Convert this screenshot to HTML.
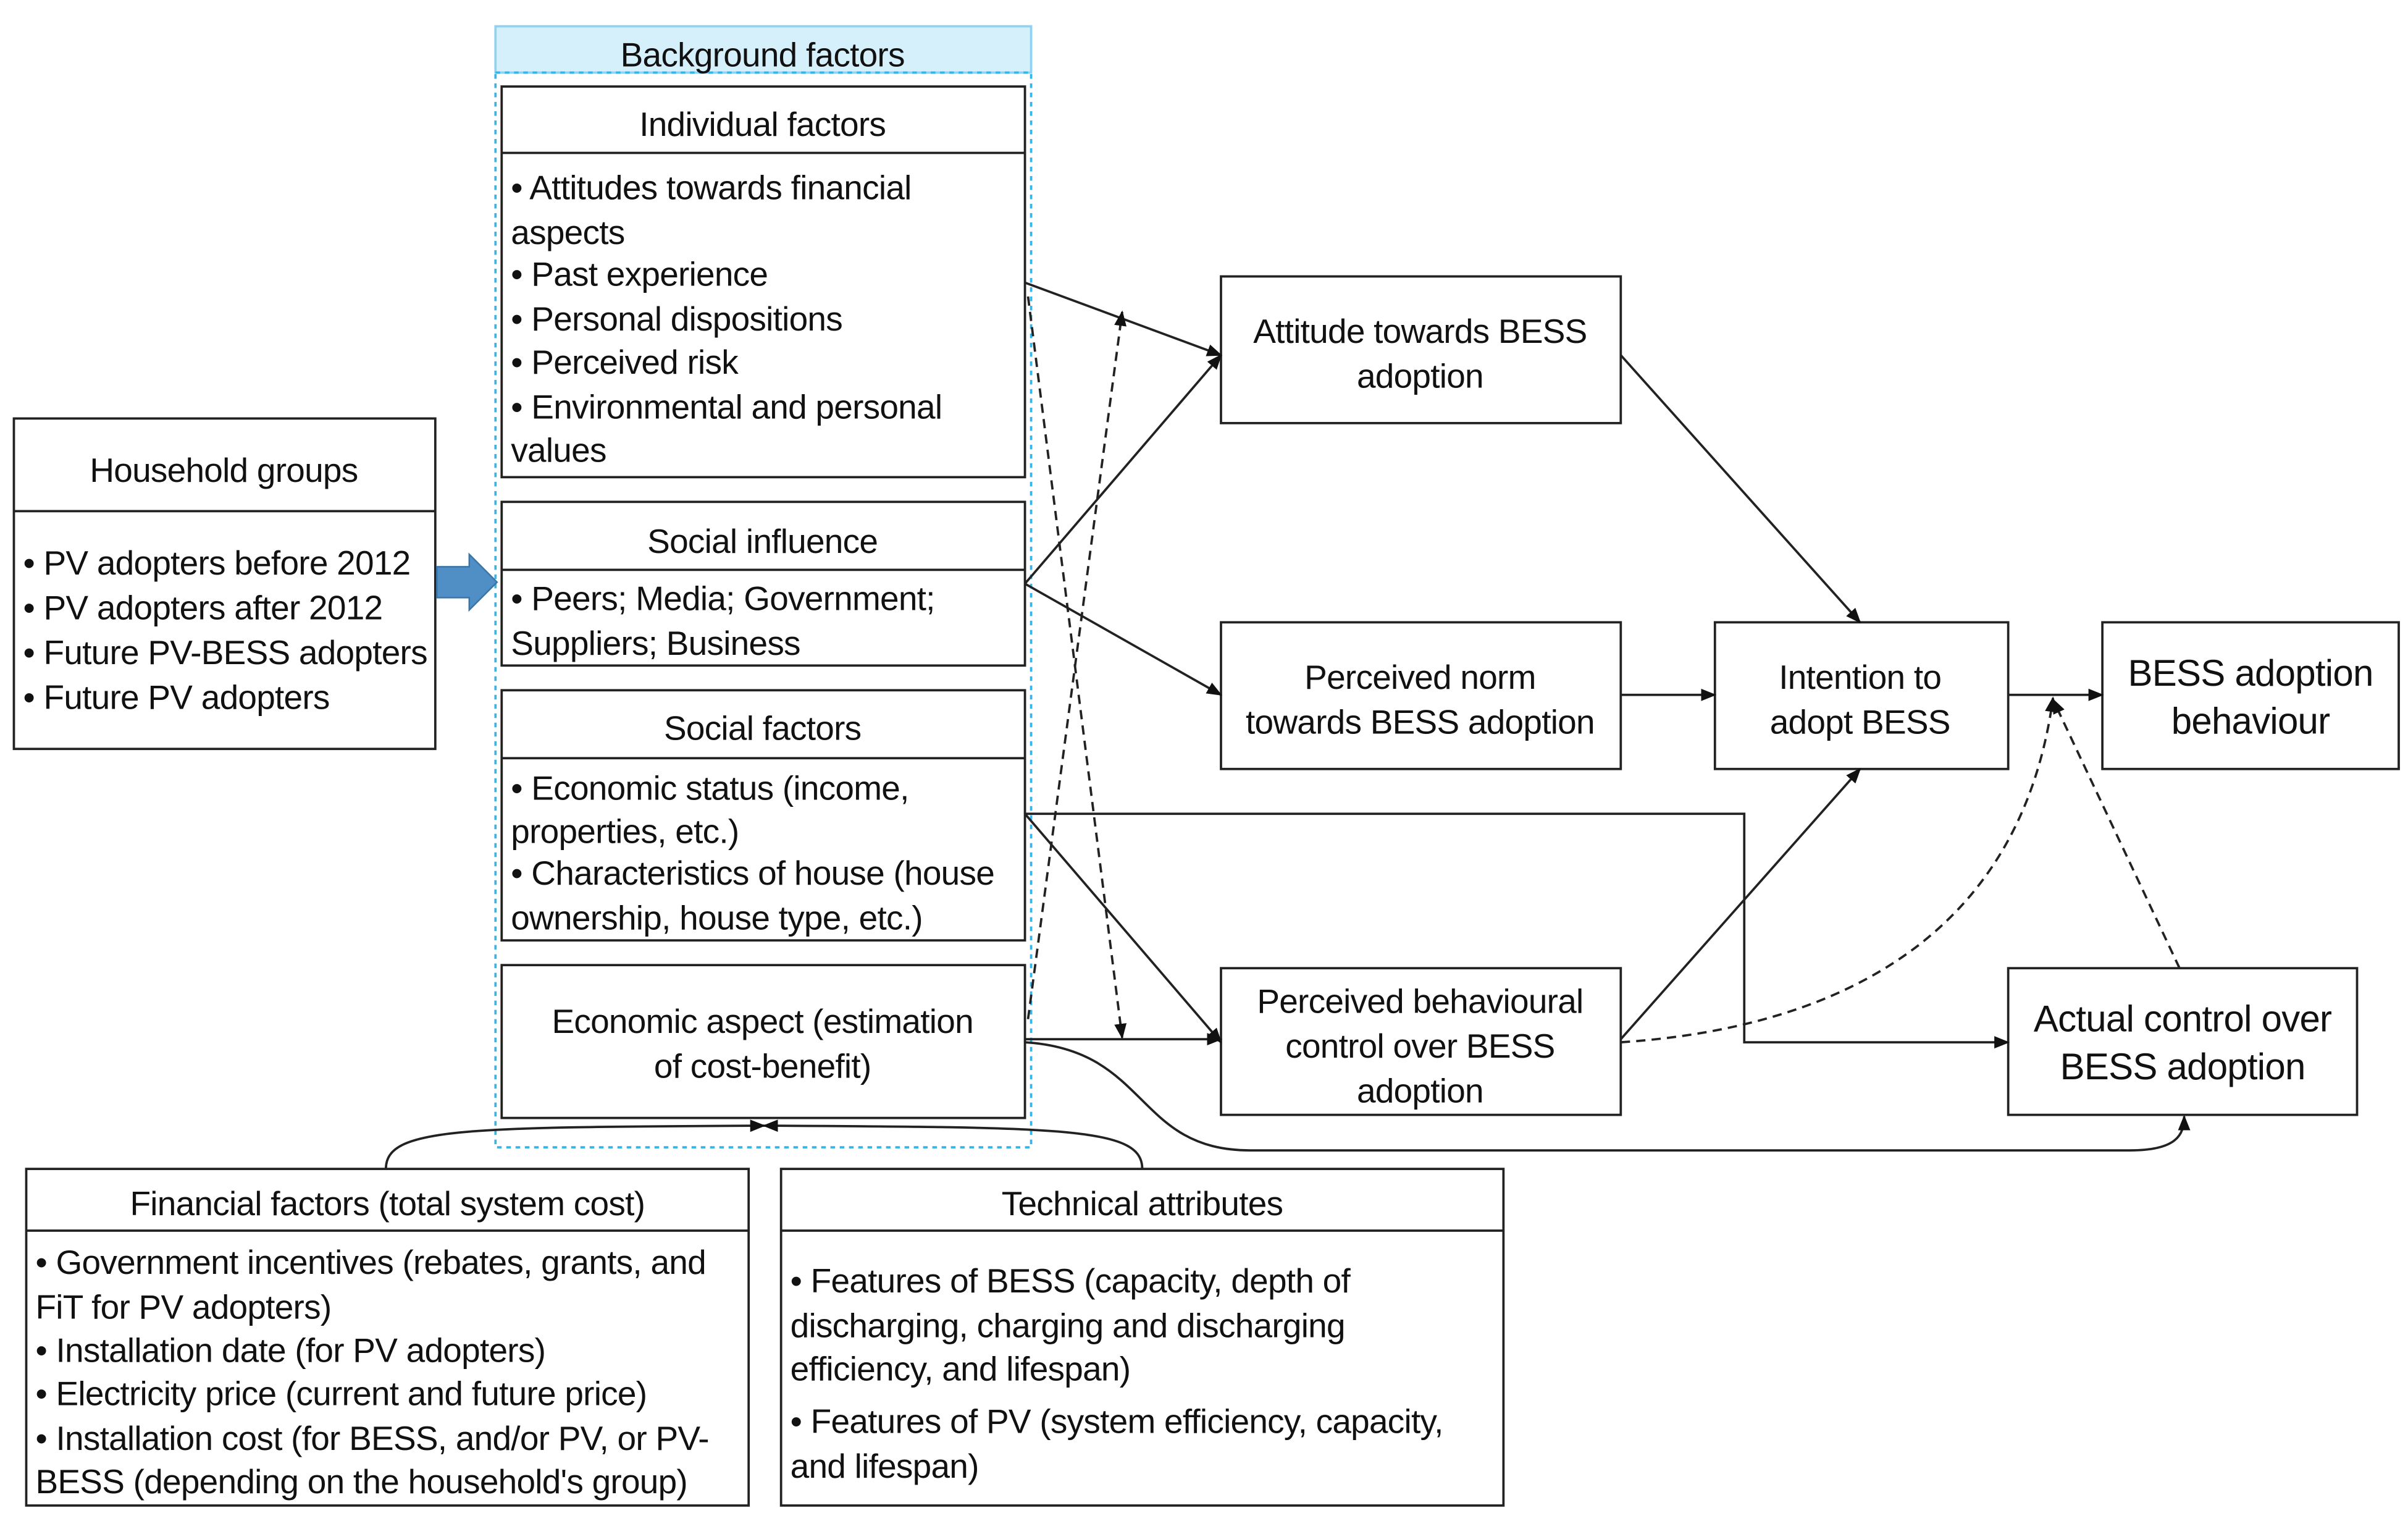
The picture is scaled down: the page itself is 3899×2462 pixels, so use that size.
<!DOCTYPE html>
<html><head><meta charset="utf-8"><style>
html,body{margin:0;padding:0;background:#fff;}
svg{display:block;}
text{font-family:"Liberation Sans","DejaVu Sans",sans-serif;font-size:22px;fill:#111;letter-spacing:-0.3px;}
.c{text-anchor:middle;}
</style></head><body>
<svg width="3899" height="2462" viewBox="0 0 1560 985" xmlns="http://www.w3.org/2000/svg">
<defs>
<marker id="a" markerWidth="10" markerHeight="10" refX="9" refY="5" orient="auto" markerUnits="userSpaceOnUse"><path d="M0,1 L10,5 L0,9 Z" fill="#111"/></marker>
</defs>
<g fill="none" stroke="#222" stroke-width="1.5">
<rect x="321" y="17" width="347" height="30" fill="#d6f0fb" stroke="#8fd3f0"/>
<rect x="321" y="47" width="347" height="696" stroke="#39b4e6" stroke-dasharray="3,3"/>
<rect x="325" y="56" width="339" height="253"/><line x1="325" y1="99" x2="664" y2="99"/>
<rect x="325" y="325" width="339" height="106"/><line x1="325" y1="369" x2="664" y2="369"/>
<rect x="325" y="447" width="339" height="162"/><line x1="325" y1="491" x2="664" y2="491"/>
<rect x="325" y="625" width="339" height="99"/>
<rect x="9" y="271" width="273" height="214"/><line x1="9" y1="331" x2="282" y2="331"/>
<rect x="791" y="179" width="259" height="95"/>
<rect x="791" y="403" width="259" height="95"/>
<rect x="791" y="627" width="259" height="95"/>
<rect x="1111" y="403" width="190" height="95"/>
<rect x="1362" y="403" width="192" height="95"/>
<rect x="1301" y="627" width="226" height="95"/>
<rect x="17" y="757" width="468" height="218"/><line x1="17" y1="797" x2="485" y2="797"/>
<rect x="506" y="757" width="468" height="218"/><line x1="506" y1="797" x2="974" y2="797"/>
<path d="M664,183 L791,230" marker-end="url(#a)"/>
<path d="M664,378 L791,230" marker-end="url(#a)"/>
<path d="M664,378 L791,450" marker-end="url(#a)"/>
<path d="M664,527 L1130,527 L1130,675 L1301,675" marker-end="url(#a)"/>
<path d="M664,527 L791,675" marker-end="url(#a)"/>
<path d="M664,673 L791,673" marker-end="url(#a)"/>
<path d="M664,675 C745,680 735,745 810,745 L1380,745 C1410,745 1415,735 1415,723" marker-end="url(#a)"/>
<path d="M1050,230 L1205,403" marker-end="url(#a)"/>
<path d="M1050,450 L1111,450" marker-end="url(#a)"/>
<path d="M1050,673 L1205,498" marker-end="url(#a)"/>
<path d="M1301,450 L1362,450" marker-end="url(#a)"/>
<path d="M250,757 C250,730 300,730 495,729" marker-end="url(#a)"/>
<path d="M740,757 C740,730 690,730 495,729" marker-end="url(#a)"/>
<g stroke-dasharray="6,4">
<path d="M666,192 L727,672" marker-end="url(#a)"/>
<path d="M666,660 L727,202" marker-end="url(#a)"/>
<path d="M1050,675 C1200,665 1310,600 1330,452" marker-end="url(#a)"/>
<path d="M1412,627 L1330,453" marker-end="url(#a)"/>
</g>
</g>
<path d="M283,367 L304,367 L304,359 L322,377 L304,395 L304,387 L283,387 Z" fill="#4f8fc6" stroke="#3a75a8"/>
<text class="c" x="494" y="43">Background factors</text>
<text class="c" x="494" y="88">Individual factors</text>
<text x="331" y="129">• Attitudes towards financial</text>
<text x="331" y="158">aspects</text>
<text x="331" y="185">• Past experience</text>
<text x="331" y="214">• Personal dispositions</text>
<text x="331" y="242">• Perceived risk</text>
<text x="331" y="271">• Environmental and personal</text>
<text x="331" y="299">values</text>
<text class="c" x="494" y="358">Social influence</text>
<text x="331" y="395">• Peers; Media; Government;</text>
<text x="331" y="424">Suppliers; Business</text>
<text class="c" x="494" y="479">Social factors</text>
<text x="331" y="518">• Economic status (income,</text>
<text x="331" y="546">properties, etc.)</text>
<text x="331" y="573">• Characteristics of house (house</text>
<text x="331" y="602">ownership, house type, etc.)</text>
<text class="c" x="494" y="669">Economic aspect (estimation</text>
<text class="c" x="494" y="698">of cost-benefit)</text>
<text class="c" x="145" y="312">Household groups</text>
<text x="15" y="372">• PV adopters before 2012</text>
<text x="15" y="401">• PV adopters after 2012</text>
<text x="15" y="430">• Future PV-BESS adopters</text>
<text x="15" y="459">• Future PV adopters</text>
<text class="c" x="920" y="222">Attitude towards BESS</text>
<text class="c" x="920" y="251">adoption</text>
<text class="c" x="920" y="446">Perceived norm</text>
<text class="c" x="920" y="475">towards BESS adoption</text>
<text class="c" x="920" y="656">Perceived behavioural</text>
<text class="c" x="920" y="685">control over BESS</text>
<text class="c" x="920" y="714">adoption</text>
<text class="c" x="1205" y="446">Intention to</text>
<text class="c" x="1205" y="475">adopt BESS</text>
<text class="c" x="1458" y="444" style="font-size:24px">BESS adoption</text>
<text class="c" x="1458" y="475" style="font-size:24px">behaviour</text>
<text class="c" x="1414" y="668" style="font-size:24px">Actual control over</text>
<text class="c" x="1414" y="699" style="font-size:24px">BESS adoption</text>
<text class="c" x="251" y="787">Financial factors (total system cost)</text>
<text x="23" y="825">• Government incentives (rebates, grants, and</text>
<text x="23" y="854">FiT for PV adopters)</text>
<text x="23" y="882">• Installation date (for PV adopters)</text>
<text x="23" y="910">• Electricity price (current and future price)</text>
<text x="23" y="939">• Installation cost (for BESS, and/or PV, or PV-</text>
<text x="23" y="967">BESS (depending on the household's group)</text>
<text class="c" x="740" y="787">Technical attributes</text>
<text x="512" y="837">• Features of BESS (capacity, depth of</text>
<text x="512" y="866">discharging, charging and discharging</text>
<text x="512" y="894">efficiency, and lifespan)</text>
<text x="512" y="928">• Features of PV (system efficiency, capacity,</text>
<text x="512" y="957">and lifespan)</text>
</svg>
</body></html>
